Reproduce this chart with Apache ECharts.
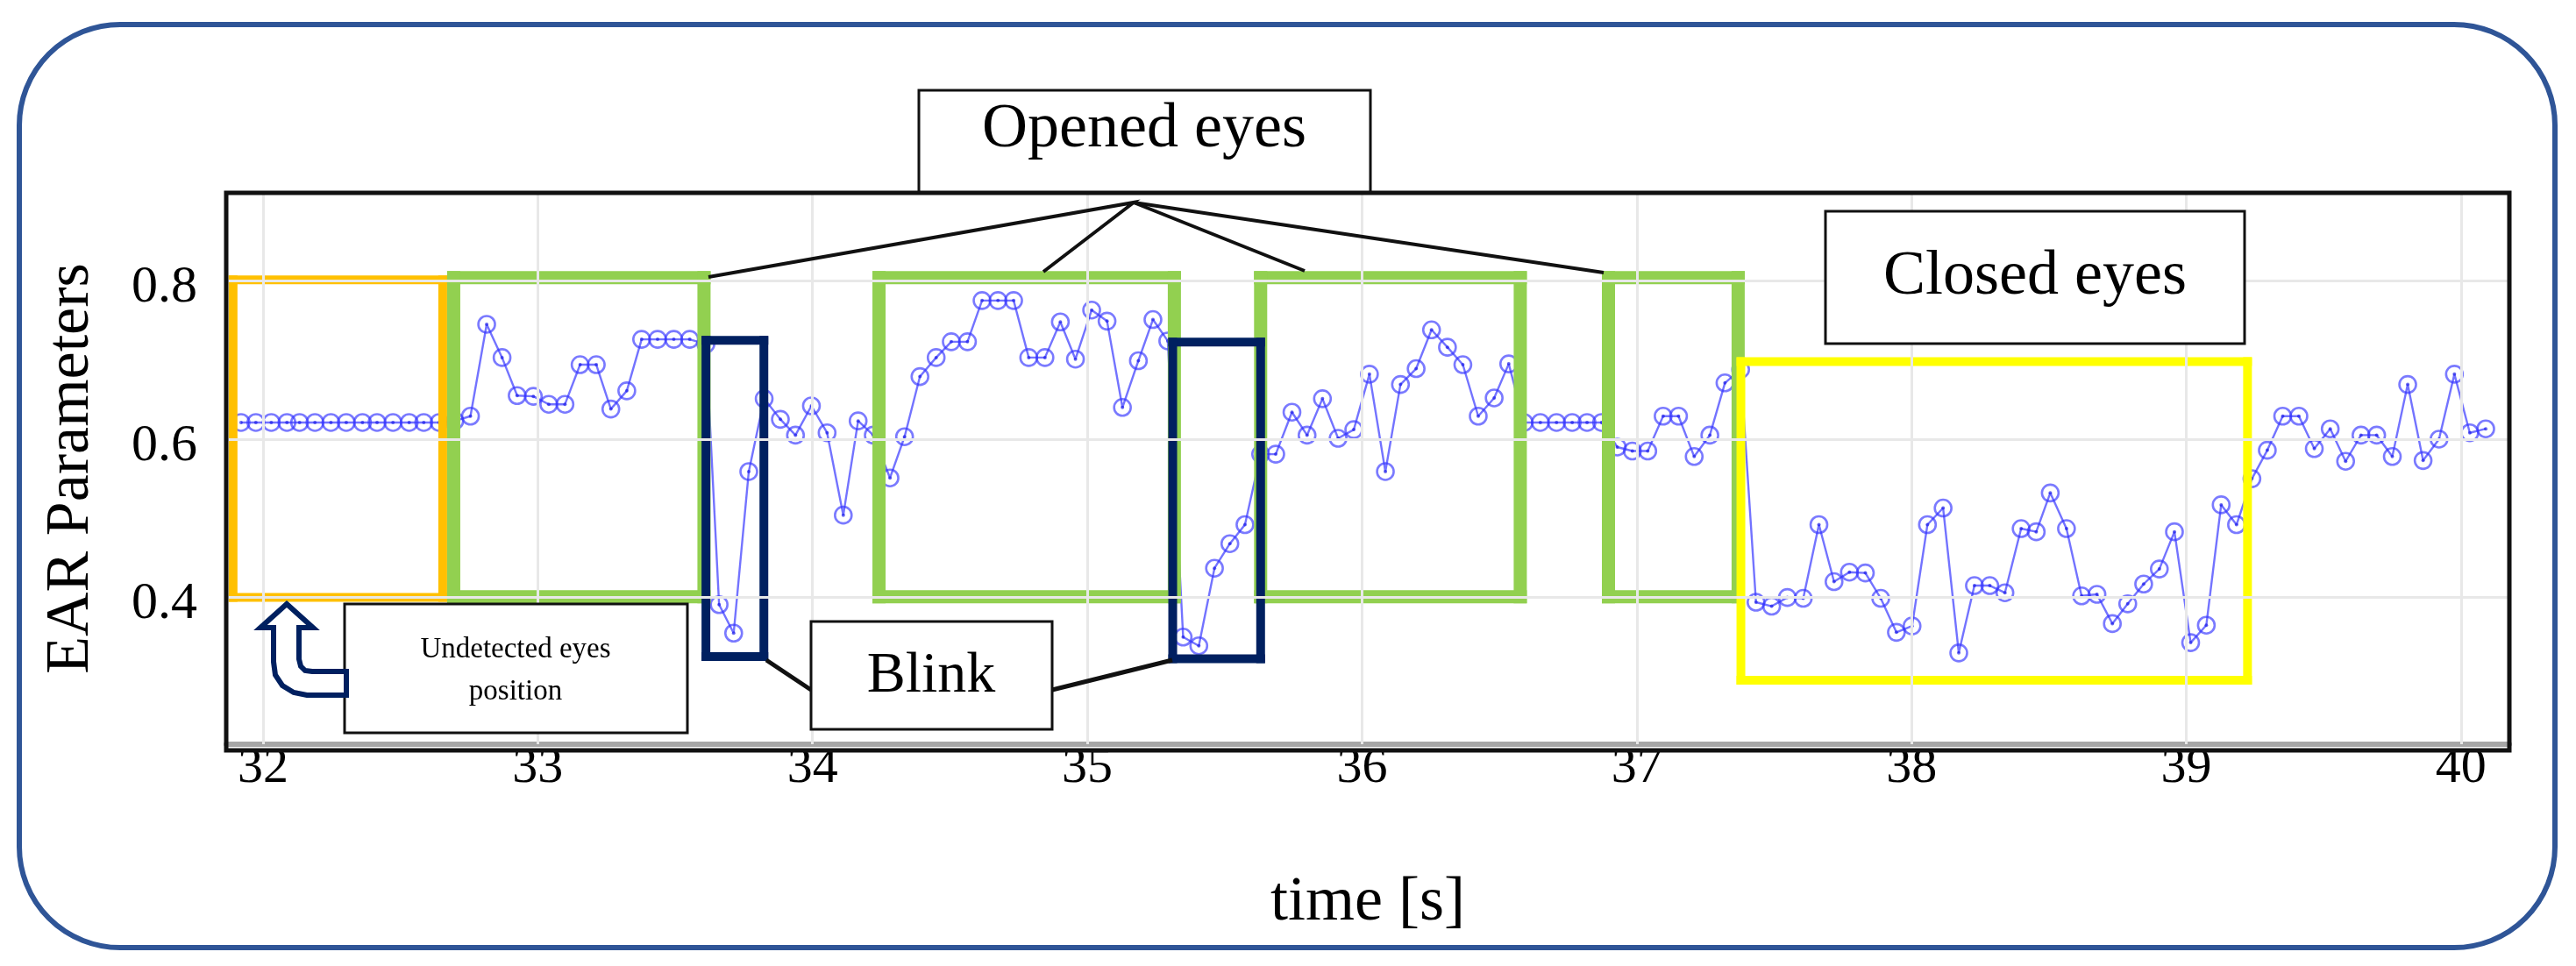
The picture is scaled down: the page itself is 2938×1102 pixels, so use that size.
<!DOCTYPE html>
<html>
<head>
<meta charset="utf-8">
<script src="https://cdn.jsdelivr.net/npm/echarts@6/dist/echarts.min.js"></script>
<style>
html,body{margin:0;padding:0;background:#fff;}
#chart{width:2938px;height:1102px;}
</style>
</head>
<body>
<div id="chart"></div>
<script>
// ---- data ----
const times = [
 31.920,31.974,32.030,32.087,32.133,32.189,32.247,32.303,32.362,32.415,
 32.473,32.532,32.585,32.641,32.698,32.755,32.814,32.870,32.925,32.984,
 33.040,33.099,33.154,33.213,33.266,33.324,33.378,33.436,33.495,33.553,
 33.612,33.660,33.713,33.768,33.824,33.883,33.938,33.996,34.053,34.112,
 34.166,34.221,34.282,34.335,34.391,34.450,34.505,34.564,34.617,34.675,
 34.732,34.787,34.846,34.902,34.957,35.016,35.072,35.128,35.186,35.239,
 35.293,35.349,35.406,35.463,35.519,35.574,35.631,35.686,35.745,35.800,
 35.856,35.913,35.970,36.027,36.085,36.140,36.197,36.253,36.311,36.367,
 36.423,36.481,36.534,36.590,36.649,36.708,36.765,36.819,36.872,36.929,
 36.984,37.040,37.096,37.152,37.209,37.266,37.321,37.378,37.434,37.491,
 37.548,37.606,37.663,37.718,37.774,37.832,37.888,37.945,38.002,38.058,
 38.115,38.172,38.229,38.285,38.340,38.399,38.454,38.505,38.564,38.619,
 38.675,38.731,38.787,38.845,38.902,38.957,39.016,39.073,39.127,39.183,
 39.239,39.295,39.351,39.410,39.466,39.524,39.580,39.636,39.693,39.750,
 39.806,39.862,39.920,39.976,40.032,40.090
];
const earValues = [
 0.621,0.621,0.621,0.621,0.621,0.621,0.621,0.621,0.621,0.621,
 0.621,0.621,0.621,0.621,0.623,0.629,0.745,0.703,0.655,0.654,
 0.644,0.644,0.694,0.694,0.638,0.661,0.726,0.726,0.726,0.726,
 0.720,0.391,0.355,0.559,0.651,0.625,0.605,0.642,0.608,0.504,
 0.623,0.605,0.551,0.603,0.679,0.703,0.723,0.723,0.775,0.775,
 0.775,0.703,0.703,0.748,0.701,0.763,0.749,0.640,0.699,0.751,
 0.724,0.350,0.339,0.437,0.468,0.492,0.581,0.581,0.634,0.605,
 0.651,0.601,0.612,0.682,0.559,0.669,0.689,0.738,0.716,0.694,
 0.629,0.652,0.695,0.621,0.621,0.621,0.621,0.621,0.621,0.590,
 0.585,0.585,0.629,0.629,0.578,0.605,0.671,0.688,0.394,0.389,
 0.400,0.399,0.492,0.420,0.432,0.431,0.399,0.356,0.364,0.492,
 0.513,0.330,0.415,0.415,0.406,0.487,0.483,0.532,0.487,0.402,
 0.404,0.367,0.392,0.417,0.436,0.483,0.343,0.365,0.517,0.492,
 0.550,0.586,0.629,0.629,0.588,0.613,0.572,0.605,0.605,0.578,
 0.669,0.573,0.600,0.682,0.608,0.613
];
const xTickLabels = [32,33,34,35,36,37,38,39,40];
const yTickLabels = [0.4,0.6,0.8];

// annotation boxes in data coordinates [tStart, vLow, tEnd, vHigh]
const undetectedBox = [31.891, 0.400, 32.654, 0.801];
const openedBoxes = [
  [32.694, 0.401, 33.605, 0.804],
  [34.242, 0.401, 35.317, 0.804],
  [35.631, 0.401, 36.576, 0.804],
  [36.897, 0.401, 37.369, 0.804]
];
const blinkBoxes = [
  [33.612, 0.3255, 33.823, 0.7248],
  [35.311, 0.3225, 35.631, 0.7226]
];
const closedBox = [37.379, 0.2956, 39.223, 0.698];

const FONT = '"Liberation Serif", "Times New Roman", serif';

const chart = echarts.init(document.getElementById('chart'), null, { renderer: 'canvas' });

const seriesData = times.map((t, i) => [t, earValues[i]]);

// box styles (kind index -> colour, border width)
const boxStyles = [
  { color: '#FFC000', w: 10 },
  { color: '#92D050', w: 15 },
  { color: '#002060', w: 10 },
  { color: '#FFFF00', w: 10 }
];
const boxRows = [undetectedBox.concat([0])]
  .concat(openedBoxes.map(b => b.concat([1])))
  .concat(blinkBoxes.map(b => b.concat([2])))
  .concat([closedBox.concat([3])]);

// each frame drawn as four filled bands centred on the box outline
function renderBox(params, api) {
  const p0 = api.coord([api.value(0), api.value(3)]);
  const p1 = api.coord([api.value(2), api.value(1)]);
  const st = boxStyles[api.value(4)];
  const h = st.w / 2;
  const x0 = p0[0] - h, y0 = p0[1] - h, x1 = p1[0] + h, y1 = p1[1] + h;
  const style = { fill: st.color, stroke: null };
  return {
    type: 'group',
    children: [
      { type: 'rect', shape: { x: x0, y: y0, width: x1 - x0, height: st.w }, style },
      { type: 'rect', shape: { x: x0, y: y1 - st.w, width: x1 - x0, height: st.w }, style },
      { type: 'rect', shape: { x: x0, y: y0, width: st.w, height: y1 - y0 }, style },
      { type: 'rect', shape: { x: x1 - st.w, y: y0, width: st.w, height: y1 - y0 }, style }
    ]
  };
}

const option = {
  animation: false,
  backgroundColor: '#ffffff',
  grid: { left: 258, top: 220, width: 2604, height: 629, containLabel: false },
  xAxis: {
    type: 'value',
    min: 31.866, max: 40.176,
    name: 'time [s]', nameLocation: 'middle', nameGap: 145,
    nameTextStyle: { fontFamily: FONT, fontSize: 72, color: '#000' },
    axisLine: { show: true, lineStyle: { color: '#a6a6a6', width: 6 } },
    axisTick: { show: true, inside: true, length: 28, customValues: xTickLabels, lineStyle: { color: '#8c8c8c', width: 2 } },
    axisLabel: { customValues: xTickLabels, fontFamily: FONT, fontSize: 58, color: '#000', margin: -1 },
    splitLine: { show: false }
  },
  yAxis: {
    type: 'value',
    min: 0.2147, max: 0.911,
    name: 'EAR Parameters', nameLocation: 'middle', nameGap: 141,
    nameTextStyle: { fontFamily: FONT, fontSize: 70, color: '#000' },
    axisLine: { show: false },
    axisTick: { show: false },
    axisLabel: { customValues: yTickLabels, fontFamily: FONT, fontSize: 60, color: '#000', margin: 33,
      verticalAlign: 'top', lineHeight: 16, formatter: v => Number(v).toFixed(1) },
    splitLine: { show: false }
  },
  series: [
    {
      type: 'line', name: 'grid', data: [], z: 1, silent: true,
      markLine: {
        silent: true, symbol: 'none', label: { show: false }, animation: false,
        lineStyle: { color: '#e8e8e8', width: 3, type: 'solid' },
        data: xTickLabels.map(x => ({ xAxis: x })).concat(yTickLabels.map(y => ({ yAxis: y })))
      }
    },
    {
      type: 'line', name: 'EAR', data: seriesData, z: 2,
      symbol: 'circle', symbolSize: 19, showSymbol: true,
      lineStyle: { color: 'rgba(40,40,255,0.65)', width: 2.4 },
      itemStyle: { color: 'rgba(0,0,0,0)', borderColor: 'rgba(50,50,255,0.65)', borderWidth: 2.6 }
    },
    {
      type: 'scatter', name: 'EARdots', data: seriesData, z: 2,
      symbol: 'circle', symbolSize: 4,
      itemStyle: { color: 'rgba(20,20,230,0.8)' }
    },
    {
      type: 'custom', name: 'boxes', data: boxRows, z: 3, silent: true, clip: false,
      renderItem: renderBox
    }
  ],
  graphic: [
    // outer rounded border
    { type: 'rect', z: 50, shape: { x: 22, y: 28, width: 2892, height: 1053, r: 115 },
      style: { fill: 'none', stroke: '#2F5597', lineWidth: 6 } },
    // plot frame
    { type: 'rect', z: 50, shape: { x: 258, y: 220, width: 2604, height: 636 },
      style: { fill: 'none', stroke: '#111', lineWidth: 5 } },
    // Opened eyes connectors
    { type: 'polyline', z: 40, shape: { points: [[808,316],[1293,231],[1190,310]] }, style: { stroke: '#111', lineWidth: 4, fill: 'none' } },
    { type: 'line', z: 40, shape: { x1: 1293, y1: 231, x2: 1488, y2: 309 }, style: { stroke: '#111', lineWidth: 4 } },
    { type: 'line', z: 40, shape: { x1: 1293, y1: 231, x2: 1829, y2: 311 }, style: { stroke: '#111', lineWidth: 4 } },
    { type: 'rect', z: 45, shape: { x: 1048, y: 103, width: 515, height: 117 },
      style: { fill: '#fff', stroke: '#111', lineWidth: 3 } },
    { type: 'text', z: 46, x: 1305, y: 148,
      style: { text: 'Opened eyes', fontFamily: FONT, fontSize: 72, fill: '#000', textAlign: 'center', textVerticalAlign: 'middle' } },
    // Closed eyes
    { type: 'rect', z: 45, shape: { x: 2082, y: 241, width: 478, height: 151 },
      style: { fill: '#fff', stroke: '#111', lineWidth: 3 } },
    { type: 'text', z: 46, x: 2321, y: 316,
      style: { text: 'Closed eyes', fontFamily: FONT, fontSize: 72, fill: '#000', textAlign: 'center', textVerticalAlign: 'middle' } },
    // Blink
    { type: 'line', z: 40, shape: { x1: 874, y1: 753, x2: 925, y2: 787 }, style: { stroke: '#111', lineWidth: 5 } },
    { type: 'line', z: 40, shape: { x1: 1200, y1: 787, x2: 1337, y2: 753 }, style: { stroke: '#111', lineWidth: 5 } },
    { type: 'rect', z: 45, shape: { x: 925, y: 709, width: 275, height: 123 },
      style: { fill: '#fff', stroke: '#111', lineWidth: 3 } },
    { type: 'text', z: 46, x: 1062, y: 772,
      style: { text: 'Blink', fontFamily: FONT, fontSize: 66, fill: '#000', textAlign: 'center', textVerticalAlign: 'middle' } },
    // Undetected eyes position
    { type: 'rect', z: 45, shape: { x: 393, y: 689, width: 391, height: 147 },
      style: { fill: '#fff', stroke: '#111', lineWidth: 3 } },
    { type: 'text', z: 46, x: 588, y: 765,
      style: { text: 'Undetected eyes\nposition', fontFamily: FONT, fontSize: 33, lineHeight: 48, fill: '#000', textAlign: 'center', textVerticalAlign: 'middle' } },
    // U-turn arrow
    { type: 'polygon', z: 46,
      shape: { points: [[327,689],[357,716],[341,716],[341,752],[343,760],[348,765],[356,766],[395,766],[395,793],[350,793],[335,790],[322,782],[314,770],[312,755],[312,716],[297,716]] },
      style: { fill: '#fff', stroke: '#002060', lineWidth: 6 } }
  ]
};
chart.setOption(option);
</script>
</body>
</html>
